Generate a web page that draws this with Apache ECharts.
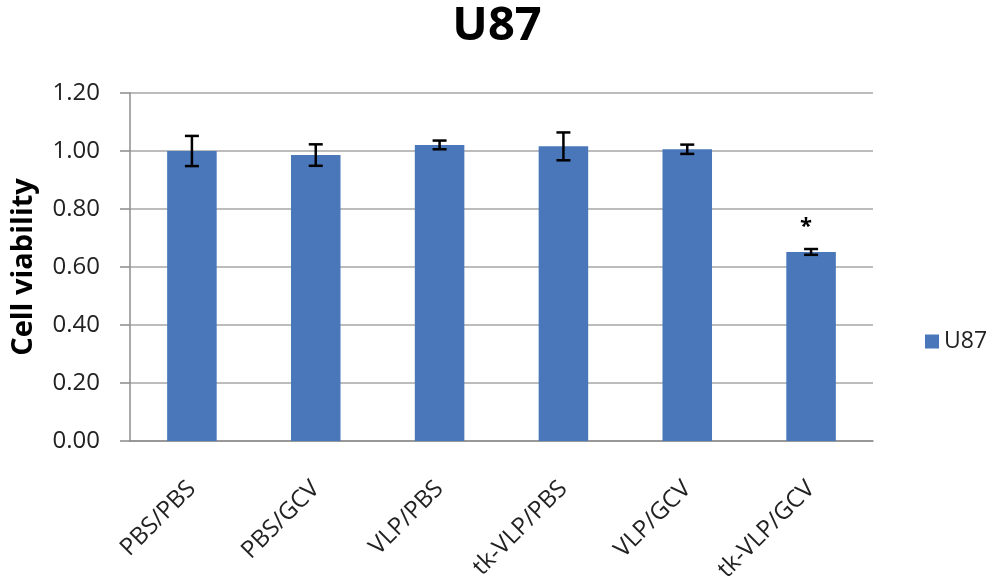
<!DOCTYPE html>
<html>
<head>
<meta charset="utf-8">
<script src="https://cdn.jsdelivr.net/npm/echarts@6/dist/echarts.min.js"></script>
<style>
  html, body { margin: 0; padding: 0; background: #fff; }
  #main { width: 1000px; height: 588px; }
</style>
</head>
<body>
<div id="main"></div>
<script>
  // data
  var categories = ['PBS/PBS', 'PBS/GCV', 'VLP/PBS', 'tk-VLP/PBS', 'VLP/GCV', 'tk-VLP/GCV'];
  var viability = [1.00, 0.986, 1.021, 1.016, 1.006, 0.652];
  var errors = [0.052, 0.037, 0.015, 0.048, 0.016, 0.010];
  var sigMarks = ['', '', '', '', '', '*'];
  var yTicks = [0, 0.2, 0.4, 0.6, 0.8, 1.0, 1.2];

  var font = 'Open Sans';
  var myChart = echarts.init(document.getElementById('main'));

  var errData = viability.map(function (v, i) { return [i, v, errors[i]]; });

  var option = {
    animation: false,
    color: ['#4A76BA'],
    title: {
      text: 'U87',
      left: 492,
      top: -2,
      textAlign: 'center',
      textStyle: { fontFamily: font, fontSize: 47, fontWeight: 'bold', color: '#000' }
    },
    legend: {
      data: ['U87'],
      left: 920,
      top: 325,
      icon: 'rect',
      itemWidth: 14,
      itemHeight: 14,
      itemGap: 8,
      textStyle: { fontFamily: font, fontSize: 23, color: '#222' }
    },
    grid: { left: 130, right: 127, top: 93, bottom: 147 },
    xAxis: {
      type: 'category',
      data: categories,
      axisLine: { lineStyle: { color: '#8c8c8c', width: 1.5 } },
      axisTick: { length: 9, lineStyle: { color: '#8c8c8c', width: 1.5 } },
      axisLabel: {
        rotate: 45,
        margin: 44,
        fontFamily: font,
        fontSize: 24,
        color: '#222'
      }
    },
    yAxis: {
      type: 'value',
      min: yTicks[0],
      max: yTicks[yTicks.length - 1],
      interval: 0.2,
      name: 'Cell viability',
      nameLocation: 'middle',
      nameGap: 92,
      nameTextStyle: { fontFamily: font, fontSize: 29, fontWeight: 'bold', color: '#000' },
      axisLine: { show: true, lineStyle: { color: '#8c8c8c', width: 1.5 } },
      axisTick: { show: true, inside: false, length: 10, lineStyle: { color: '#8c8c8c', width: 1.5 } },
      splitLine: { lineStyle: { color: '#a6a6a6', width: 1.5 } },
      axisLabel: {
        margin: 30,
        fontFamily: font,
        fontSize: 24,
        color: '#222',
        formatter: function (v) { return v.toFixed(2); }
      }
    },
    series: [
      {
        name: 'U87',
        type: 'bar',
        data: viability,
        barWidth: '40%'
      },
      {
        name: 'err',
        type: 'custom',
        data: errData,
        encode: { x: 0, y: 1 },
        z: 5,
        renderItem: function (params, api) {
          var x = api.value(0), v = api.value(1), e = api.value(2);
          var hi = api.coord([x, v + e]);
          var lo = api.coord([x, v - e]);
          var cap = 7;
          var style = { stroke: '#000', lineWidth: 2.5 };
          var children = [
            { type: 'line', shape: { x1: hi[0], y1: hi[1], x2: lo[0], y2: lo[1] }, style: style },
            { type: 'line', shape: { x1: hi[0] - cap, y1: hi[1], x2: hi[0] + cap, y2: hi[1] }, style: style },
            { type: 'line', shape: { x1: lo[0] - cap, y1: lo[1], x2: lo[0] + cap, y2: lo[1] }, style: style }
          ];
          var mark = sigMarks[params.dataIndex];
          if (mark) {
            children.push({
              type: 'text',
              style: {
                text: mark, x: hi[0] - 5, y: hi[1] - 22,
                align: 'center', verticalAlign: 'middle',
                font: 'bold 22px "' + font + '"', fill: '#000'
              }
            });
          }
          return { type: 'group', children: children };
        }
      }
    ]
  };
  myChart.setOption(option);
</script>
</body>
</html>
